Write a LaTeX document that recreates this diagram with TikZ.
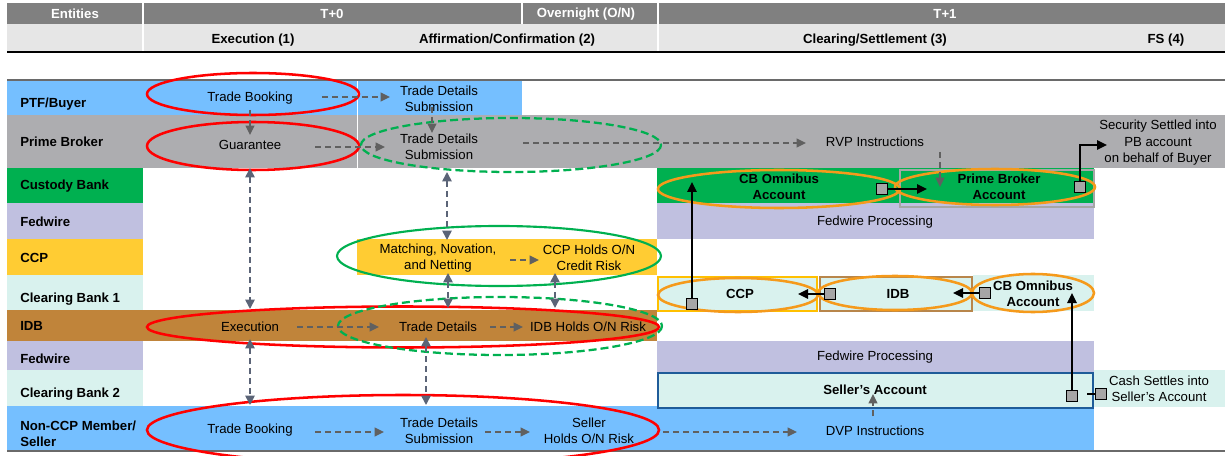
\documentclass[tikz,border=0pt]{standalone}
\usepackage{fontspec}
\setmainfont{Liberation Sans}
\usetikzlibrary{arrows.meta}
\definecolor{hdrgray}{HTML}{808080}
\definecolor{hdrlight}{HTML}{E6E6E6}
\definecolor{ptfblue}{HTML}{75BFFF}
\definecolor{pbgray}{HTML}{ADADB0}
\definecolor{custgreen}{HTML}{00B050}
\definecolor{fedlav}{HTML}{C0C0E0}
\definecolor{ccpyellow}{HTML}{FFCC33}
\definecolor{cbmint}{HTML}{D9F2EE}
\definecolor{idbbrown}{HTML}{C0843A}
\definecolor{ovred}{HTML}{FF0000}
\definecolor{ovgreen}{HTML}{00B050}
\definecolor{ovorange}{HTML}{F59A1B}
\definecolor{arrgray}{HTML}{606060}
\definecolor{arrslate}{HTML}{5B6477}
\definecolor{sqgray}{HTML}{A6A6A6}
\definecolor{sellerblue}{HTML}{1F5C99}
\definecolor{idbedge}{HTML}{B8864B}
\definecolor{ccpedge}{HTML}{FFC000}
\definecolor{pbedge}{HTML}{A6A6A6}
\definecolor{topline}{HTML}{6A6A6A}
\begin{document}
\begin{tikzpicture}[x=0.75pt,y=-0.75pt,
  txt/.style={inner sep=0pt, align=center, font=\fontsize{9.9}{12.4}\selectfont},
  btxt/.style={inner sep=0pt, align=center, font=\fontsize{9.9}{12.4}\selectfont\bfseries},
  lbl/.style={inner sep=0pt, anchor=west, align=left, font=\fontsize{9.9}{12.4}\selectfont\bfseries},
  hdr/.style={inner sep=0pt, font=\fontsize{9.9}{12}\selectfont\bfseries, text=white},
  hdrtwo/.style={inner sep=0pt, font=\fontsize{9.9}{12}\selectfont\bfseries},
  flowarr/.style={draw=arrgray, line width=1.2pt, dash pattern=on 4.5pt off 3pt, -{Triangle[length=7pt,width=6.5pt]}},
  linkarr/.style={draw=arrslate, line width=1.2pt, dash pattern=on 4.5pt off 3pt, {Triangle[length=7pt,width=7pt]}-{Triangle[length=7pt,width=7pt]}},
  blkarr/.style={draw=black, line width=1.2pt, -{Triangle[length=7.5pt,width=7pt]}},
  acct/.style={draw=black, fill=sqgray, line width=1.1pt, minimum size=8.3pt, inner sep=0pt},
  redov/.style={draw=ovred, line width=1.9pt},
  greenov/.style={draw=ovgreen, line width=1.6pt},
  greendash/.style={draw=ovgreen, line width=1.7pt, dash pattern=on 6pt off 3pt},
  orangeov/.style={draw=ovorange, line width=1.9pt}
]
\useasboundingbox (0,0) rectangle (1225,456);
\clip (0,0) rectangle (1225,456);
% header
\fill[hdrgray] (7,3) rectangle (1225,24);
\fill[hdrlight] (7,24) rectangle (1225,51);
\draw[white, line width=0.9pt] (143,3) -- (143,51);
\draw[white, line width=0.9pt] (522,3) -- (522,24);
\draw[white, line width=0.9pt] (658,3) -- (658,51);
\draw[black, line width=1.1pt] (7,52) -- (1225,52);
\node[hdr] (hEnt) at (75,14) {Entities};
\node[hdr] (hT0) at (332,14) {T+0};
\node[hdr] (hON) at (586,14) {Overnight (O/N)};
\node[hdr] (hT1) at (945,14) {T+1};
\node[hdrtwo] (hExe) at (253,40) {Execution (1)};
\node[hdrtwo] (hAff) at (507,40) {Affirmation/Confirmation (2)};
\node[hdrtwo] (hClr) at (875,40) {Clearing/Settlement (3)};
\node[hdrtwo] (hFS) at (1166,40) {FS (4)};
% row bands
\fill[ptfblue] (7,80) rectangle (522,115);
\fill[pbgray] (7,115) rectangle (1225,168);
\draw[white, line width=0.6pt] (357,80) -- (357,168);
\fill[custgreen] (7,168) rectangle (143,203);
\fill[custgreen] (657,168) rectangle (1094,203);
\fill[fedlav] (7,203) rectangle (143,239);
\fill[fedlav] (657,203) rectangle (1094,239);
\fill[ccpyellow] (7,239) rectangle (143,275);
\fill[ccpyellow] (357,239) rectangle (657,275);
\fill[cbmint] (7,275) rectangle (143,310);
\fill[idbbrown] (7,310) rectangle (657,341);
\fill[fedlav] (7,341) rectangle (143,370);
\fill[fedlav] (657,341) rectangle (1094,372);
\fill[cbmint] (7,370) rectangle (143,406);
\fill[cbmint] (1094,370) rectangle (1225,407);
\fill[ptfblue] (7,406) rectangle (1094,451);
\draw[topline, line width=1.2pt] (7,80) -- (1225,80);
\draw[topline, line width=1.5pt] (7,451) -- (1225,451);
% boxes
\draw[pbedge, line width=1.3pt] (900,170) rectangle (1094,207);
\filldraw[fill=cbmint, draw=ccpedge, line width=1.3pt] (658,277) rectangle (817,311);
\filldraw[fill=cbmint, draw=idbedge, line width=1.3pt] (820,277) rectangle (972,311);
\fill[cbmint] (973,275) rectangle (1094,311);
\filldraw[fill=cbmint, draw=sellerblue, line width=1.6pt] (658,373) rectangle (1093,408);
% labels
\node[lbl] (lPTF) at (20,104) {PTF/Buyer};
\node[lbl] (lPB) at (20,142) {Prime Broker};
\node[lbl] (lCust) at (20,186) {Custody Bank};
\node[lbl] (lFed1) at (20,222) {Fedwire};
\node[lbl] (lCCP) at (20,258) {CCP};
\node[lbl] (lCB1) at (20,299) {Clearing Bank 1};
\node[lbl] (lIDB) at (20,326) {IDB};
\node[lbl] (lFed2) at (20,359) {Fedwire};
\node[lbl] (lCB2) at (20,394) {Clearing Bank 2};
\node[lbl] (lNon) at (20,434) {Non-CCP Member/\\Seller};
% ellipses
\draw[redov] (253,94) ellipse [x radius=106, y radius=21];
\draw[redov] (253,146) ellipse [x radius=106, y radius=24];
\draw[greendash] (511,145) ellipse [x radius=150, y radius=27];
\draw[greenov] (499,256) ellipse [x radius=162, y radius=30];
\draw[redov] (403,327) ellipse [x radius=256, y radius=20.5];
\draw[greendash] (500,326) ellipse [x radius=162, y radius=29];
\draw[redov] (403,430) ellipse [x radius=256, y radius=35];
\draw[orangeov] (779,189) ellipse [x radius=121, y radius=19];
\draw[orangeov] (995,187) ellipse [x radius=100, y radius=18];
\draw[orangeov] (738,295) ellipse [x radius=80, y radius=17];
\draw[orangeov] (895,293) ellipse [x radius=77, y radius=17];
\draw[orangeov] (1033,293) ellipse [x radius=61, y radius=19];
% texts
\node[txt] (tBook1) at (250,98) {Trade Booking};
\node[txt] (tSub1) at (439,99) {Trade Details\\Submission};
\node[txt] (tGuar) at (250,145) {Guarantee};
\node[txt] (tSub2) at (439,147) {Trade Details\\Submission};
\node[txt] (tRVP) at (875,142) {RVP Instructions};
\node[txt] (tSec) at (1158,143) {Security Settled into\\PB account\\on behalf of Buyer};
\node[btxt] (tCBO1) at (779,187) {CB Omnibus\\Account};
\node[btxt] (tPBA) at (999,187) {Prime Broker\\Account};
\node[txt] (tFed1) at (875,222) {Fedwire Processing};
\node[txt] (tMatch) at (438,258) {Matching, Novation,\\and Netting};
\node[txt] (tCCPr) at (589,258) {CCP Holds O/N\\Credit Risk};
\node[btxt] (tCCPb) at (740,294) {CCP};
\node[btxt] (tIDBb) at (898,294) {IDB};
\node[btxt] (tCBO2) at (1033,294) {CB Omnibus\\Account};
\node[txt] (tExec) at (250,327) {Execution};
\node[txt] (tTD) at (438,327) {Trade Details};
\node[txt] (tIDBr) at (588,327) {IDB Holds O/N Risk};
\node[txt] (tFed2) at (875,357) {Fedwire Processing};
\node[btxt] (tSeller) at (875,390) {Seller’s Account};
\node[txt] (tCash) at (1159,389) {Cash Settles into\\Seller’s Account};
\node[txt] (tBook2) at (250,430) {Trade Booking};
\node[txt] (tSub3) at (439,431) {Trade Details\\Submission};
\node[txt] (tSellR) at (589,431) {Seller\\Holds O/N Risk};
\node[txt] (tDVP) at (875,431) {DVP Instructions};
% arrow end coordinates
\coordinate (a1s) at (322,97);  \coordinate (a1e) at (390,97);
\coordinate (a2s) at (250,110); \coordinate (a2e) at (250,135);
\coordinate (a3s) at (315,147); \coordinate (a3e) at (385,147);
\coordinate (a4s) at (432,107); \coordinate (a4e) at (432,133);
\coordinate (a5s) at (523,143); \coordinate (a5e) at (806,143);
\coordinate (a6s) at (940,152); \coordinate (a6e) at (940,187);
\coordinate (a7s) at (510,260); \coordinate (a7e) at (539,260);
\coordinate (a8s) at (297,327); \coordinate (a8e) at (379,327);
\coordinate (a9s) at (490,327); \coordinate (a9e) at (523,327);
\coordinate (a10s) at (315,432); \coordinate (a10e) at (384,432);
\coordinate (a11s) at (485,432); \coordinate (a11e) at (530,432);
\coordinate (a12s) at (663,432); \coordinate (a12e) at (797,432);
\coordinate (a13s) at (873,416); \coordinate (a13e) at (873,394);
\coordinate (d1s) at (250,168); \coordinate (d1e) at (250,309);
\coordinate (d2s) at (250,339); \coordinate (d2e) at (250,405);
\coordinate (d3s) at (447,172); \coordinate (d3e) at (447,240);
\coordinate (d4s) at (448,273); \coordinate (d4e) at (448,308);
\coordinate (d5s) at (555,273); \coordinate (d5e) at (555,308);
\coordinate (d6s) at (426,337); \coordinate (d6e) at (426,405);
% flow arrows
\draw[flowarr] (a1s) -- (a1e);
\draw[flowarr] (a2s) -- (a2e);
\draw[flowarr] (a3s) -- (a3e);
\draw[flowarr] (a4s) -- (a4e);
\draw[flowarr] (a5s) -- (a5e);
\draw[flowarr] (a6s) -- (a6e);
\draw[flowarr] (a7s) -- (a7e);
\draw[flowarr] (a8s) -- (a8e);
\draw[flowarr] (a9s) -- (a9e);
\draw[flowarr] (a10s) -- (a10e);
\draw[flowarr] (a11s) -- (a11e);
\draw[flowarr] (a12s) -- (a12e);
\draw[flowarr] (a13s) -- (a13e);
% link arrows
\draw[linkarr] (d1s) -- (d1e);
\draw[linkarr] (d2s) -- (d2e);
\draw[linkarr] (d3s) -- (d3e);
\draw[linkarr] (d4s) -- (d4e);
\draw[linkarr] (d5s) -- (d5e);
\draw[linkarr] (d6s) -- (d6e);
% account squares
\node[acct] (sCB) at (882,189) {};
\node[acct] (sPB) at (1080,187) {};
\node[acct] (sCCP) at (692,304) {};
\node[acct] (sIDB) at (830,294) {};
\node[acct] (sCB2) at (985,293) {};
\node[acct] (sSell) at (1072,396) {};
\node[acct] (sCash) at (1101,394) {};
\coordinate (b1e) at (927,189);
\coordinate (b2e) at (1107,145);
\coordinate (b3e) at (692,182);
\coordinate (b4e) at (798,294);
\coordinate (b5e) at (953,293);
\coordinate (b6e) at (1072,293);
\coordinate (b7s) at (1087,394);
\draw[blkarr] (sCB.east) -- (b1e);
\draw[blkarr] (sPB.north) |- (b2e);
\draw[blkarr] (sCCP.north) -- (b3e);
\draw[blkarr] (sIDB.west) -- (b4e);
\draw[blkarr] (sCB2.west) -- (b5e);
\draw[blkarr] (sSell.north) -- (b6e);
\draw[black, line width=1.1pt] (b7s) -- (sCash.west);
\end{tikzpicture}
\end{document}
